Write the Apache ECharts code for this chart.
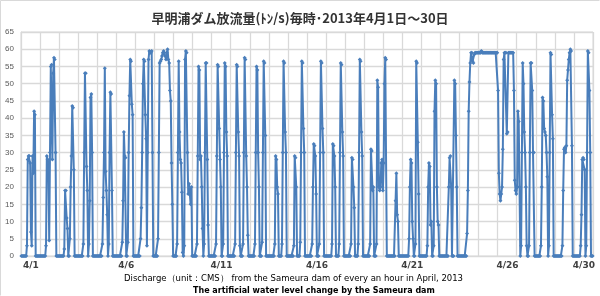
<!DOCTYPE html>
<html><head><meta charset="utf-8">
<script src="https://cdn.jsdelivr.net/npm/echarts@6/dist/echarts.min.js"></script>
<style>html,body{margin:0;padding:0;background:#fff}#c{width:600px;height:296px}</style>
</head><body><div id="c"></div>
<script>
// Hourly discharge (m3/s), one array per day (hours 0..23)
const d01 = [0,0,0,0,0,0,0,3,28,29,29,27,7,3,29,24,42,41,0,0,0,0,0,0];
const d02 = [0,0,0,0,0,0,0,3,29,28,27,4.5,30,55,55.5,28,53,57.5,57,30,0,0,0,0];
const d03 = [0,0,0,0,0,0,2,19,19,11,8,0,0,5,20,29,43.5,43,25,0,0,0,0,0];
const d04 = [0,0,0,0,0,0,3.5,30,53,53,26,19,0,3.5,16,46,47,30,0,0,0,0,0,0];
const d05 = [0,0,0,0,0,0,3.5,17,30,54.5,24.5,19,12,0,3.5,30,47.5,47,19,0,0,0,0,0];
const d06 = [0,0,0,0,0,0,0,4,16,36,29,28.5,0,0,4,30,46.5,57,56.5,44,41,0,0,0];
const d07 = [0,0,0,0,0,0,5,14,30,50,57,56.5,41,34,3,30,57,59.5,59,59,59.5,30,0,0];
const d08 = [0,0,0,0,5,30,56,56.5,57,58,59,59.5,59,58,57,59,60,57,56,48,45,27,15,0];
const d09 = [0,0,0,0,3.5,30,56.5,36,28,27,18.5,1,0,3,57,59.5,59,30,18,21,18,15,20,0];
const d10 = [0,0,0,0,0,3.5,29,55,54,28,29,20,8,0,3.5,30,56,56,28,9,0,0,0,0];
const d11 = [0,0,0,0,0,3.5,29,55.5,55,37,28,20,0,0,3.5,30,56,55,36,29,0,0,0,0];
const d12 = [0,0,0,0,0,3.5,30,55.5,55,36,29,3,0,0,0,3.5,30,57.5,57,29,20,6,0,0];
const d13 = [0,0,0,0,0,0,3.5,30,55,54,30,20,0,0,0,4,30,56.5,56,35,0,0,0,0];
const d14 = [0,0,0,0,0,0,0,3.5,29,28,20,18,0,0,0,0,3.5,30,56.5,56,36,30,0,0];
const d15 = [0,0,0,0,0,0,0,3,29,28.5,20,0,0,0,0,4,30,56.5,56,37,30,0,0,0];
const d16 = [0,0,0,0,0,0,3.5,20,32.5,32,29,18,0,0,0,3.5,30,56.5,56,37,30,0,0,0];
const d17 = [0,0,0,0,0,0,0,3.5,32.5,32,29,20,0,0,0,0,3.5,30,56,55.5,36,29,0,0];
const d18 = [0,0,0,0,0,0,0,3.5,28.5,28,20,14,0,0,0,0,3.5,30,57,56.5,36,29,0,0];
const d19 = [0,0,0,0,0,0,0,3.5,31,30.5,19,20,0,0,0,3.5,51,49,20,19,20,27,28,19];
const d20 = [27,50,57.5,57,0,0,0,0,0,0,0,0,0,0,0,16,24,12,10,0,0,0,0,0];
const d21 = [0,0,0,0,0,0,0,0,5,20,28,27,10,5,0,0,3.5,56.5,56,33,18,0,0,0];
const d22 = [0,0,0,0,0,0,0,3,20,27,26,9,10,0,0,3,42,51,50,20,10,9,0,0];
const d23 = [0,0,0,0,0,0,0,0,0,0,20,28.5,29,20,0,0,0,51,50,35,20,0,0,0];
const d24 = [0,0,0,0,0,0,0,0,0,6.5,19,42,50.5,56,59,59,56.5,56,58.5,59,59,59,59,59];
const d25 = [59,59,59,59.5,59,59,59,59,59,59,59,59,59,59,59,59,59,59,59,59,59,59,59,59];
const d26 = [48,24,18,16,18,20,31,57,59,59,59,35.5,36,59,59,59,59,59,59,59,48,22,19,18];
const d27 = [20,42,39,20,0,3,30,56,50,36,30,20,3,0,0,3,30,56,56,48,30,30,0,0];
const d28 = [0,0,0,0,0,0,3,20,46,45,37,36,35,30,23,0,3,30,59,58.5,41,34,0,0];
const d29 = [0,0,0,0,0,0,0,0,0,3,19,31,31.5,30,32,51,54,57,59,60,59.5,32,0,0];
const d30 = [0,0,0,0,0,0,0,0,3,12,28,28.5,28,25,0,3,30,59.5,59,48,30,0,0,0];

const days = [d01,d02,d03,d04,d05,d06,d07,d08,d09,d10,d11,d12,d13,d14,d15,d16,d17,d18,d19,d20,d21,d22,d23,d24,d25,d26,d27,d28,d29,d30];
const tickDays = [1,6,11,16,21,26,30];
const tickLabels = ['4/1','4/6','4/11','4/16','4/21','4/26','4/30'];
const yTicks = {min:0, max:65, step:5};

const values = [];
const cats = [];
days.forEach((arr, di) => arr.forEach((v, h) => { values.push(v); cats.push('4/' + (di + 1) + ' ' + h + ':00'); }));
const labelIndex = {};
tickDays.forEach((d, i) => { labelIndex[(d - 1) * 24 + 12] = tickLabels[i]; });

const chart = echarts.init(document.getElementById('c'), null, {renderer: 'canvas'});
chart.setOption({
  animation: false,
  backgroundColor: '#fff',
  title: {
    text: '早明浦ダム放流量(ﾄﾝ/s)毎時･2013年4月1日～30日',
    left: 'center', top: 7,
    textStyle: {fontFamily: '"Noto Sans CJK JP"', fontSize: 13, fontWeight: 'bold', color: '#333'}
  },
  grid: {left: 21, right: 7, top: 32, bottom: 40, show: true, borderColor: '#d9d9d9', borderWidth: 1},
  xAxis: {
    type: 'category', data: cats, boundaryGap: true,
    axisLine: {show: true, lineStyle: {color: '#d9d9d9', width: 1}},
    axisTick: {show: false},
    splitLine: {show: true, interval: (i) => i % 24 === 0, lineStyle: {color: '#d9d9d9', width: 1.3}},
    axisLabel: {
      interval: (i) => labelIndex[i] !== undefined,
      formatter: (v, i) => labelIndex[i] || '',
      margin: 5, fontSize: 9, fontWeight: 'bold', color: '#404040',
      fontFamily: '"DejaVu Sans"'
    }
  },
  yAxis: {
    type: 'value', min: yTicks.min, max: yTicks.max, interval: yTicks.step,
    axisLine: {show: true, lineStyle: {color: '#d9d9d9'}},
    axisTick: {show: false},
    splitLine: {show: true, lineStyle: {color: '#d9d9d9', width: 1.3}},
    axisLabel: {fontSize: 8, color: '#595959', margin: 7, fontFamily: 'Liberation Sans'}
  },
  series: [{
    type: 'line', data: values,
    showAllSymbol: true, symbol: 'diamond', symbolSize: 4,
    lineStyle: {color: '#4a7ebb', width: 2},
    itemStyle: {color: '#4a7ebb'}
  }],
  graphic: [
    {type: 'line', shape: {x1: 0.5, y1: 0.5, x2: 599.5, y2: 0.5}, style: {stroke: '#d9d9d9', lineWidth: 1}},
    {type: 'line', shape: {x1: 0.5, y1: 0.5, x2: 0.5, y2: 295.5}, style: {stroke: '#d9d9d9', lineWidth: 1}},
    {type: 'text', left: 124, top: 274, style: {text: 'Discharge（unit：CMS） from the Sameura dam of every an hour in April, 2013', font: '8.5px "DejaVu Sans"', fill: '#000'}},
    {type: 'text', left: 193, top: 287, style: {text: 'The artificial water level change by the Sameura dam', font: 'bold 8px "DejaVu Sans"', fill: '#000'}}
  ]
});
</script></body></html>
